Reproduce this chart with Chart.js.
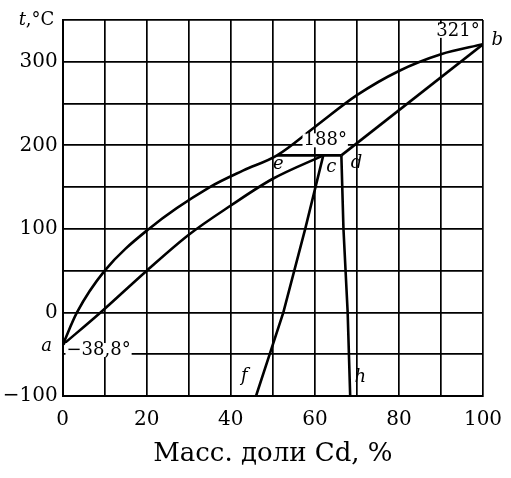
<!DOCTYPE html>
<html>
<head>
<meta charset="utf-8">
<script src="https://cdn.jsdelivr.net/npm/chart.js@4.4.0/dist/chart.umd.min.js"></script>
<style>
    html, body { margin: 0; padding: 0; background: #fff; }
    #box { width: 511px; height: 478px; }
</style>
</head>
<body>
<div id="box"><canvas id="diagrama"></canvas></div>
<script>
// Диаграмма состояния Hg – Cd
const liquidusX = [0, 3.4, 10, 20.5, 35, 43, 51, 60, 70, 80, 90, 100];
const liquidusT = [-38.8, 0, 50, 100, 150, 170, 188, 222, 260, 289, 309, 321];

const solidusX = [0, 9, 20, 30, 40, 50, 62];
const solidusT = [-38.8, 0, 50, 93, 128, 160, 188];

const solidusCdX = [66.3, 100];
const solidusCdT = [188, 321];

const peritX = [51, 66.3];
const peritT = [188, 188];

const lineCfX = [46, 52.5, 57.7, 62];
const lineCfT = [-100, 0, 100, 188];

const lineDhX = [66.3, 66.8, 67.8, 68.4];
const lineDhT = [188, 100, 0, -100];

const xLabels = [0, 20, 40, 60, 80, 100];
const yLabels = [-100, 0, 100, 200, 300];

// подписи: [текст, x, t, выравнивание, курсив, белый фон]
const pointLabels = [
    ['a', -3.8, -40, 'center', true, false],
    ['\u221238,8\u00b0', 0.9, -45, 'left', false, true],
    ['b', 103.4, 326, 'center', true, false],
    ['321\u00b0', 99.2, 337, 'right', false, true],
    ['188\u00b0', 57.3, 206, 'left', false, true],
    ['e', 51.3, 177, 'center', true, false],
    ['c', 63.9, 174, 'center', true, false],
    ['d', 69.9, 179, 'center', true, false],
    ['f', 43.2, -77, 'center', true, false],
    ['h', 70.8, -78, 'center', true, false]
];

function toPoints(xs, ts) {
    var pts = [];
    for (var i = 0; i < xs.length; i++) {
        pts.push({ x: xs[i], y: ts[i] });
    }
    return pts;
}

function linia(xs, ts, curved) {
    return {
        data: toPoints(xs, ts),
        borderColor: '#000',
        borderWidth: 2.6,
        pointRadius: 0,
        fill: false,
        tension: curved ? 0.4 : 0,
        cubicInterpolationMode: curved ? 'monotone' : 'default'
    };
}

const SERIF = '"DejaVu Serif", "Liberation Serif", serif';

const textPlugin = {
    id: 'textPlugin',
    afterDraw(chart) {
        const ctx = chart.ctx;
        const sx = chart.scales.x;
        const sy = chart.scales.y;
        ctx.save();
        ctx.textBaseline = 'middle';
        ctx.fillStyle = '#000';
        pointLabels.forEach(function (lb) {
            ctx.font = (lb[4] ? 'italic ' : '') + '18px ' + SERIF;
            ctx.textAlign = lb[3];
            var px = sx.getPixelForValue(lb[1]);
            var py = sy.getPixelForValue(lb[2]);
            if (lb[5]) {
                var w = ctx.measureText(lb[0]).width;
                var left = lb[3] === 'right' ? px - w : (lb[3] === 'center' ? px - w / 2 : px);
                ctx.fillStyle = '#fff';
                ctx.fillRect(left - 1, py - 7, w + 2, 14);
                ctx.fillStyle = '#000';
            }
            ctx.fillText(lb[0], px, py);
        });
        // подпись оси температур
        var a = chart.chartArea;
        ctx.textAlign = 'left';
        ctx.font = 'italic 18px ' + SERIF;
        ctx.fillText('t', a.left - 44, a.top);
        ctx.font = '18px ' + SERIF;
        ctx.fillText(',\u00b0C', a.left - 37, a.top);
        ctx.restore();
    }
};

const dados = {
    datasets: [
        linia(liquidusX, liquidusT, true),
        linia(solidusX, solidusT, true),
        linia(solidusCdX, solidusCdT, false),
        linia(peritX, peritT, false),
        linia(lineCfX, lineCfT, false),
        linia(lineDhX, lineDhT, false)
    ]
};

const config = {
    type: 'line',
    data: dados,
    options: {
        responsive: true,
        maintainAspectRatio: false,
        animation: false,
        layout: { padding: { top: 20, right: 28, left: 0, bottom: 0 } },
        plugins: { legend: { display: false }, tooltip: { enabled: false } },
        scales: {
            x: {
                type: 'linear',
                min: 0,
                max: 100,
                afterFit: function (scale) {
                    scale.height = 82;
                    scale.paddingLeft = 0;
                    scale.paddingRight = 0;
                },
                border: { color: '#000', width: 2 },
                grid: { color: '#000', lineWidth: 1.7, drawTicks: false },
                ticks: {
                    stepSize: 10,
                    padding: 12,
                    color: '#000',
                    font: { family: SERIF, size: 20 },
                    maxRotation: 0,
                    autoSkip: false,
                    callback: function (v) { return xLabels.indexOf(v) >= 0 ? String(v) : ''; }
                },
                title: {
                    display: true,
                    text: 'Масс. доли Cd, %',
                    color: '#000',
                    font: { family: SERIF, size: 26 },
                    padding: { top: 0, bottom: 8 }
                }
            },
            y: {
                type: 'linear',
                min: -100,
                max: 350,
                afterFit: function (scale) {
                    scale.width = 62.7;
                    scale.paddingTop = 0;
                    scale.paddingBottom = 0;
                },
                border: { color: '#000', width: 2 },
                grid: { color: '#000', lineWidth: 1.7, drawTicks: false },
                ticks: {
                    stepSize: 50,
                    padding: 5,
                    color: '#000',
                    font: { family: SERIF, size: 20 },
                    autoSkip: false,
                    callback: function (v) {
                        if (yLabels.indexOf(v) < 0) return '';
                        return v < 0 ? '\u2212' + Math.abs(v) : String(v);
                    }
                }
            }
        }
    },
    plugins: [textPlugin]
};

let grafico = new Chart(document.getElementById('diagrama'), config);
</script>
</body>
</html>
